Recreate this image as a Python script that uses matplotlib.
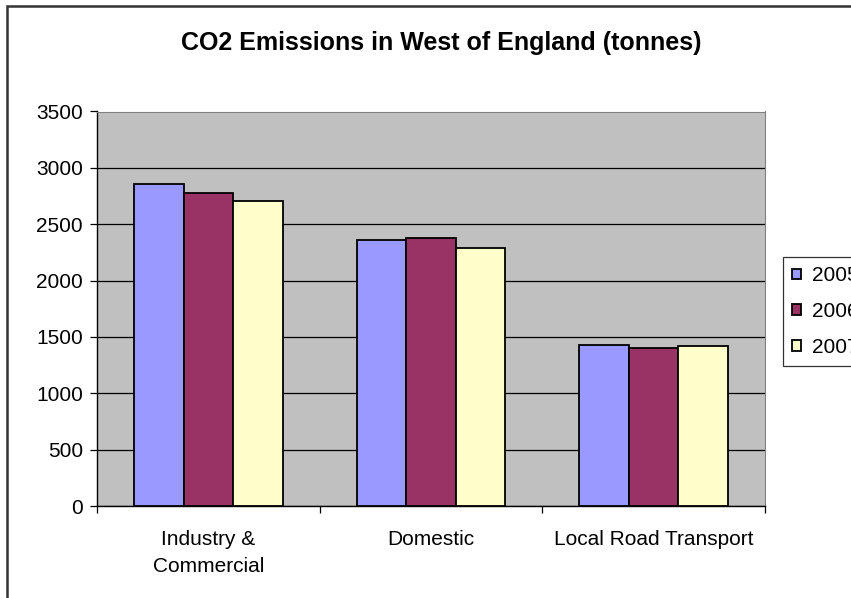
import matplotlib

matplotlib.use("Agg")
import matplotlib.pyplot as plt
import numpy as np
from matplotlib.patches import Rectangle

plt.rcParams["font.family"] = ["Liberation Sans", "DejaVu Sans"]

categories = ["Industry &\nCommercial", "Domestic", "Local Road Transport"]
years = ["2005", "2006", "2007"]
em_2005 = [2853, 2360, 1429]
em_2006 = [2780, 2377, 1403]
em_2007 = [2709, 2286, 1420]
yticks = [0, 500, 1000, 1500, 2000, 2500, 3000, 3500]

COLORS = ["#9999FF", "#993366", "#FFFFCC"]
W, H = 851, 598

fig = plt.figure(figsize=(W / 100, H / 100), dpi=100)
ax = fig.add_axes([97 / W, (H - 506) / H, (765 - 97) / W, (506 - 111.5) / H])
ax.set_facecolor("#C0C0C0")

x = np.arange(len(categories))
bw = 1 / 4.5
for i, (vals, yr) in enumerate(zip([em_2005, em_2006, em_2007], years)):
    ax.bar(x + (i - 1) * bw, vals, width=bw, color=COLORS[i], edgecolor="black",
           linewidth=1.3, label=yr, zorder=3)

ax.set_xlim(-0.5, len(categories) - 0.5)
ax.set_ylim(0, 3500)
ax.set_yticks(yticks)
ax.yaxis.grid(True, color="black", lw=0.9, zorder=1)
ax.set_axisbelow(True)
ax.tick_params(axis="y", direction="out", length=5, width=0.9, labelsize=15, pad=5)

ax.set_xticks(x)
ax.set_xticklabels(categories, fontsize=15, linespacing=1.55)
ax.tick_params(axis="x", which="major", length=0, pad=17)
ax.set_xticks(np.arange(-0.5, len(categories)), minor=True)
ax.tick_params(axis="x", which="minor", direction="out", length=5, width=0.9)

for s in ("top", "right"):
    ax.spines[s].set_color("#808080")
for s in ("left", "bottom"):
    ax.spines[s].set_color("black")
    ax.spines[s].set_linewidth(1.0)

fig.text(441 / W, 1 - 43 / H, "CO2 Emissions in West of England (tonnes)",
         ha="center", va="center", fontsize=18, fontweight="bold")

leg = ax.legend(loc="upper left", bbox_to_anchor=(783 / W, 1 - 257 / H),
                bbox_transform=fig.transFigure, fontsize=15, frameon=True,
                fancybox=False, edgecolor="black", handlelength=0.42,
                handleheight=0.42, handletextpad=0.5, labelspacing=0.8,
                borderpad=0.45, borderaxespad=0)
leg.get_frame().set_linewidth(0.9)

# outer chart border
fig.patches.append(Rectangle((7 / W, -0.1), 2, 1 - 6 / H + 0.1, transform=fig.transFigure,
                             fill=False, edgecolor="#333333", lw=1.8))

fig.savefig("out.png", dpi=100)
